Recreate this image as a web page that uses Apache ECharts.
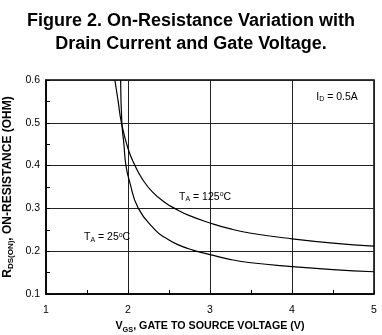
<!DOCTYPE html>
<html>
<head>
<meta charset="utf-8">
<script src="https://cdn.jsdelivr.net/npm/echarts@6/dist/echarts.min.js"></script>
<style>
html,body{margin:0;padding:0;background:#fff;}
#c{width:382px;height:335px;}
</style>
</head>
<body>
<div id="c"></div>
<script>
// ---- data ----
const titleLines = ['Figure 2. On-Resistance Variation with', 'Drain Current and Gate Voltage.'];
const xTicks = [1, 2, 3, 4, 5];
const yTicks = [0.1, 0.2, 0.3, 0.4, 0.5, 0.6];
// T_A = 125°C curve: [VGS, RDS(on)]
const vgs125 = [1.84, 1.88, 1.92, 2.0, 2.085, 2.18, 2.3, 2.45, 2.57, 2.75, 3.0, 3.25, 3.5, 4.0, 4.5, 5.0];
const r125   = [0.60, 0.55, 0.50, 0.44, 0.40, 0.367, 0.338, 0.314, 0.30, 0.283, 0.266, 0.252, 0.242, 0.229, 0.219, 0.212];
// T_A = 25°C curve
const vgs25 = [1.91, 1.925, 1.95, 1.975, 2.02, 2.126, 2.33, 2.45, 2.6, 2.8, 3.0, 3.24, 3.5, 4.0, 4.5, 5.0];
const r25   = [0.60, 0.50, 0.45, 0.40, 0.362, 0.30, 0.25, 0.232, 0.216, 0.202, 0.192, 0.181, 0.173, 0.164, 0.157, 0.152];
// annotations [x, y, text]
const notes = [
  [2.94, 0.327, '{n|T}{s|A}{n| = 125}{p|o}{n|C}'],
  [1.745, 0.233, '{n|T}{s|A}{n| = 25}{p|o}{n|C}'],
  [4.55, 0.561, '{n|I}{s|D}{n| = 0.5A}']
];

const FONT = '"Liberation Sans", Arial, sans-serif';
const rich = {
  n: {fontSize: 10.5, fontFamily: FONT, color: '#000', lineHeight: 12},
  s: {fontSize: 7, fontFamily: FONT, color: '#000', verticalAlign: 'bottom', lineHeight: 6},
  p: {fontSize: 7, fontFamily: FONT, color: '#000', verticalAlign: 'top', lineHeight: 6}
};
const richX = {
  nb: {fontSize: 10.7, fontWeight: 'bold', fontFamily: FONT, color: '#000', lineHeight: 14},
  sb: {fontSize: 7.3, fontWeight: 'bold', fontFamily: FONT, color: '#000', verticalAlign: 'bottom', lineHeight: 7}
};
const richY = {
  nb: {fontSize: 12, fontWeight: 'bold', fontFamily: FONT, color: '#000', lineHeight: 14},
  sb: {fontSize: 8, fontWeight: 'bold', fontFamily: FONT, color: '#000', verticalAlign: 'bottom', lineHeight: 7}
};

const chart = echarts.init(document.getElementById('c'), null, {renderer: 'canvas'});
const zip = (a, b) => a.map((v, i) => [v, b[i]]);
const lineStyle = {color: '#000', width: 1.2};

chart.setOption({
  animation: false,
  backgroundColor: '#fff',
  title: {
    text: titleLines.join('\n'),
    left: 'center',
    top: 5,
    textStyle: {fontFamily: FONT, fontSize: 18, fontWeight: 'bold', color: '#000', lineHeight: 23}
  },
  grid: {left: 46, right: 8, top: 80, bottom: 41, show: true, borderColor: '#000', borderWidth: 1.5,
         containLabel: false, outerBoundsMode: 'none'},
  xAxis: {
    type: 'value', min: xTicks[0], max: xTicks[xTicks.length - 1], interval: 1,
    axisLine: {show: true, onZero: false, lineStyle: {color: '#000', width: 1.5}},
    axisTick: {show: true, inside: true, length: 4, lineStyle: {color: '#000'}},
    minorTick: {show: true, splitNumber: 2, length: 4, lineStyle: {color: '#000'}},
    splitLine: {show: true, lineStyle: {color: '#222', width: 1}},
    axisLabel: {margin: 11, fontFamily: FONT, fontSize: 10.5, color: '#000'},
    name: '{nb|V}{sb|GS}{nb|, GATE TO SOURCE VOLTAGE (V)}',
    nameLocation: 'middle', nameGap: 24,
    nameTextStyle: {rich: richX}
  },
  yAxis: {
    type: 'value', min: yTicks[0], max: yTicks[yTicks.length - 1], interval: 0.1,
    axisLine: {show: true, onZero: false, lineStyle: {color: '#000', width: 1.5}},
    axisTick: {show: true, inside: true, length: 4, lineStyle: {color: '#000'}},
    minorTick: {show: true, splitNumber: 2, length: 4, lineStyle: {color: '#000'}},
    splitLine: {show: true, lineStyle: {color: '#222', width: 1}},
    axisLabel: {margin: 6, fontFamily: FONT, fontSize: 10.5, color: '#000', formatter: v => v.toFixed(1)},
    name: '{nb|R}{sb|DS(ON)}{nb|, ON-RESISTANCE (OHM)}',
    nameLocation: 'middle', nameGap: 27, nameRotate: 90,
    nameTextStyle: {rich: richY}
  },
  series: [
    {
      type: 'line', data: zip(vgs125, r125), smooth: 0.5,
      showSymbol: false, lineStyle: lineStyle, silent: true, clip: true,
      markPoint: {
        symbol: 'circle', symbolSize: 0, silent: true,
        label: {show: true, position: 'inside', rich: rich},
        data: notes.map(n => ({coord: [n[0], n[1]], label: {formatter: n[2]}}))
      }
    },
    {
      type: 'line', data: zip(vgs25, r25), smooth: 0.5,
      showSymbol: false, lineStyle: lineStyle, silent: true, clip: true
    }
  ]
});
</script>
</body>
</html>
